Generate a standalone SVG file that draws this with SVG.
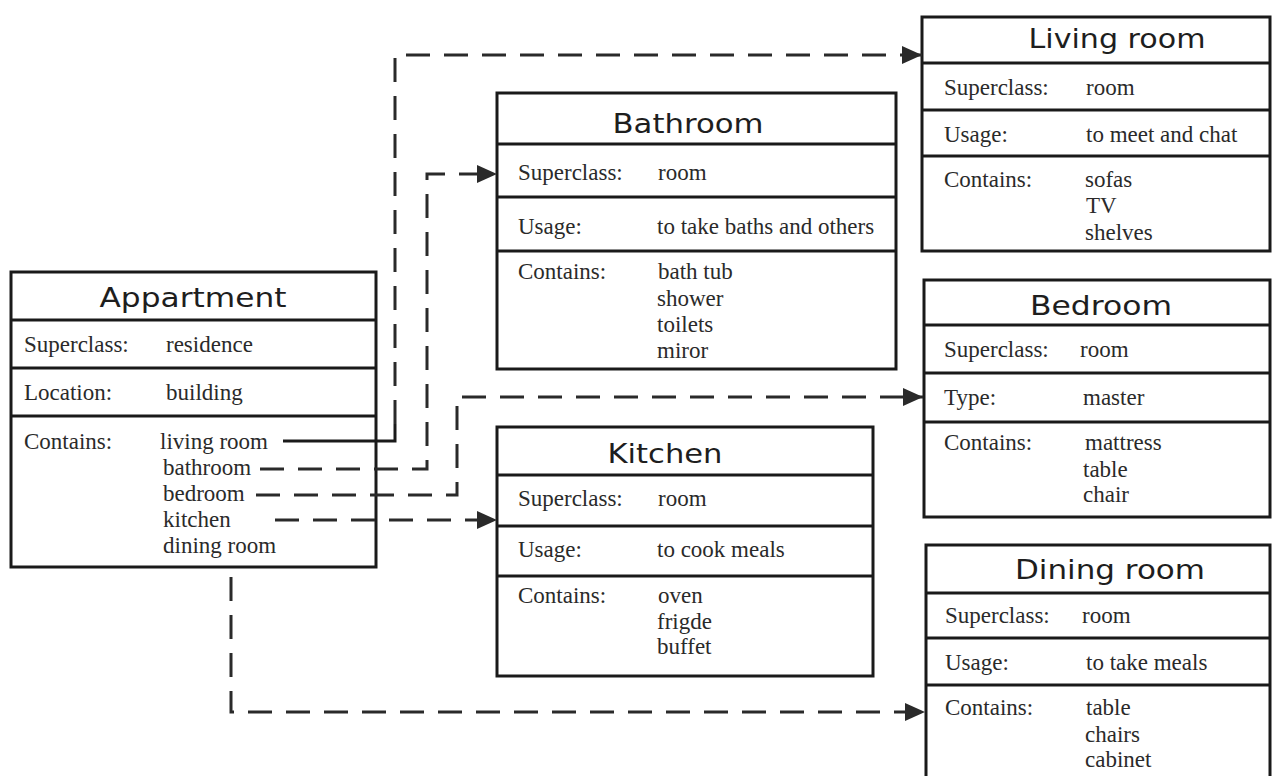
<svg xmlns="http://www.w3.org/2000/svg" width="1272" height="776" viewBox="0 0 1272 776">
<style>
.box{fill:#fff;stroke:#1a1a1a;stroke-width:3}
.div{stroke:#1a1a1a;stroke-width:3}
.title{font-family:"DejaVu Sans","Liberation Sans",sans-serif;font-size:27px;fill:#1e1e1e;text-anchor:middle}
.t{font-family:"Liberation Serif","Times New Roman",serif;font-size:23px;fill:#2a2a2a}
.dash{fill:none;stroke:#2a2a2a;stroke-width:3;stroke-dasharray:24 14}
.solid{fill:none;stroke:#1a1a1a;stroke-width:3}
</style>
<defs>
<marker id="arr" markerUnits="userSpaceOnUse" markerWidth="20" markerHeight="18" refX="20" refY="9" orient="auto">
<path d="M0,0 L20,9 L0,18 Z" fill="#2a2a2a"/>
</marker>
</defs>
<rect width="1272" height="776" fill="#fff"/>

<g id="appartment">
<rect class="box" x="11" y="272" width="365" height="295"/>
<line class="div" x1="11" y1="320" x2="376" y2="320"/>
<line class="div" x1="11" y1="368" x2="376" y2="368"/>
<line class="div" x1="11" y1="416" x2="376" y2="416"/>
<text class="title" x="193" y="307" textLength="187" lengthAdjust="spacingAndGlyphs">Appartment</text>
<text class="t" x="24" y="352">Superclass:</text>
<text class="t" x="166" y="352">residence</text>
<text class="t" x="24" y="400">Location:</text>
<text class="t" x="166" y="400">building</text>
<text class="t" x="24" y="449">Contains:</text>
<text class="t" x="160" y="449">living room</text>
<text class="t" x="163" y="475">bathroom</text>
<text class="t" x="163" y="501">bedroom</text>
<text class="t" x="163" y="527">kitchen</text>
<text class="t" x="163" y="553">dining room</text>
</g>

<g id="bathroom">
<rect class="box" x="497" y="93" width="399" height="276"/>
<line class="div" x1="497" y1="144" x2="896" y2="144"/>
<line class="div" x1="497" y1="197" x2="896" y2="197"/>
<line class="div" x1="497" y1="251" x2="896" y2="251"/>
<text class="title" x="688" y="133" textLength="151" lengthAdjust="spacingAndGlyphs">Bathroom</text>
<text class="t" x="518" y="180">Superclass:</text>
<text class="t" x="658" y="180">room</text>
<text class="t" x="518" y="234">Usage:</text>
<text class="t" x="657" y="234">to take baths and others</text>
<text class="t" x="518" y="279">Contains:</text>
<text class="t" x="658" y="279">bath tub</text>
<text class="t" x="657" y="306">shower</text>
<text class="t" x="657" y="332">toilets</text>
<text class="t" x="657" y="358">miror</text>
</g>

<g id="kitchen">
<rect class="box" x="497" y="427" width="376" height="249"/>
<line class="div" x1="497" y1="475" x2="873" y2="475"/>
<line class="div" x1="497" y1="526" x2="873" y2="526"/>
<line class="div" x1="497" y1="576" x2="873" y2="576"/>
<text class="title" x="665" y="463" textLength="115" lengthAdjust="spacingAndGlyphs">Kitchen</text>
<text class="t" x="518" y="506">Superclass:</text>
<text class="t" x="658" y="506">room</text>
<text class="t" x="518" y="557">Usage:</text>
<text class="t" x="657" y="557">to cook meals</text>
<text class="t" x="518" y="603">Contains:</text>
<text class="t" x="658" y="603">oven</text>
<text class="t" x="657" y="629">frigde</text>
<text class="t" x="657" y="654">buffet</text>
</g>

<g id="livingroom">
<rect class="box" x="922" y="17" width="348" height="234"/>
<line class="div" x1="922" y1="63" x2="1270" y2="63"/>
<line class="div" x1="922" y1="110" x2="1270" y2="110"/>
<line class="div" x1="922" y1="156" x2="1270" y2="156"/>
<text class="title" x="1117" y="48" textLength="177" lengthAdjust="spacingAndGlyphs">Living room</text>
<text class="t" x="944" y="95">Superclass:</text>
<text class="t" x="1086" y="95">room</text>
<text class="t" x="944" y="142">Usage:</text>
<text class="t" x="1086" y="142">to meet and chat</text>
<text class="t" x="944" y="187">Contains:</text>
<text class="t" x="1085" y="187">sofas</text>
<text class="t" x="1086" y="213">TV</text>
<text class="t" x="1085" y="240">shelves</text>
</g>

<g id="bedroom">
<rect class="box" x="924" y="280" width="346" height="237"/>
<line class="div" x1="924" y1="325" x2="1270" y2="325"/>
<line class="div" x1="924" y1="373" x2="1270" y2="373"/>
<line class="div" x1="924" y1="422" x2="1270" y2="422"/>
<text class="title" x="1101" y="315" textLength="142" lengthAdjust="spacingAndGlyphs">Bedroom</text>
<text class="t" x="944" y="357">Superclass:</text>
<text class="t" x="1080" y="357">room</text>
<text class="t" x="944" y="405">Type:</text>
<text class="t" x="1083" y="405">master</text>
<text class="t" x="944" y="450">Contains:</text>
<text class="t" x="1085" y="450">mattress</text>
<text class="t" x="1083" y="477">table</text>
<text class="t" x="1083" y="502">chair</text>
</g>

<g id="diningroom">
<rect class="box" x="926" y="545" width="344" height="260"/>
<line class="div" x1="926" y1="593" x2="1270" y2="593"/>
<line class="div" x1="926" y1="638" x2="1270" y2="638"/>
<line class="div" x1="926" y1="685" x2="1270" y2="685"/>
<text class="title" x="1110" y="579" textLength="190" lengthAdjust="spacingAndGlyphs">Dining room</text>
<text class="t" x="945" y="623">Superclass:</text>
<text class="t" x="1082" y="623">room</text>
<text class="t" x="945" y="670">Usage:</text>
<text class="t" x="1086" y="670">to take meals</text>
<text class="t" x="945" y="715">Contains:</text>
<text class="t" x="1086" y="715">table</text>
<text class="t" x="1085" y="742">chairs</text>
<text class="t" x="1085" y="767">cabinet</text>
</g>

<g id="connectors">
<path class="solid" d="M283,441 L395,441 L395,424"/>
<path class="dash" d="M395,424 L395,55 L922,55" marker-end="url(#arr)"/>
<path class="dash" d="M260,469 L427,469 L427,174 L497,174" marker-end="url(#arr)"/>
<path class="dash" d="M256,495 L457,495 L457,397 L923,397" marker-end="url(#arr)"/>
<path class="dash" d="M275,520 L497,520" marker-end="url(#arr)"/>
<path class="dash" d="M231,577 L231,712 L925,712" marker-end="url(#arr)"/>
</g>
</svg>
